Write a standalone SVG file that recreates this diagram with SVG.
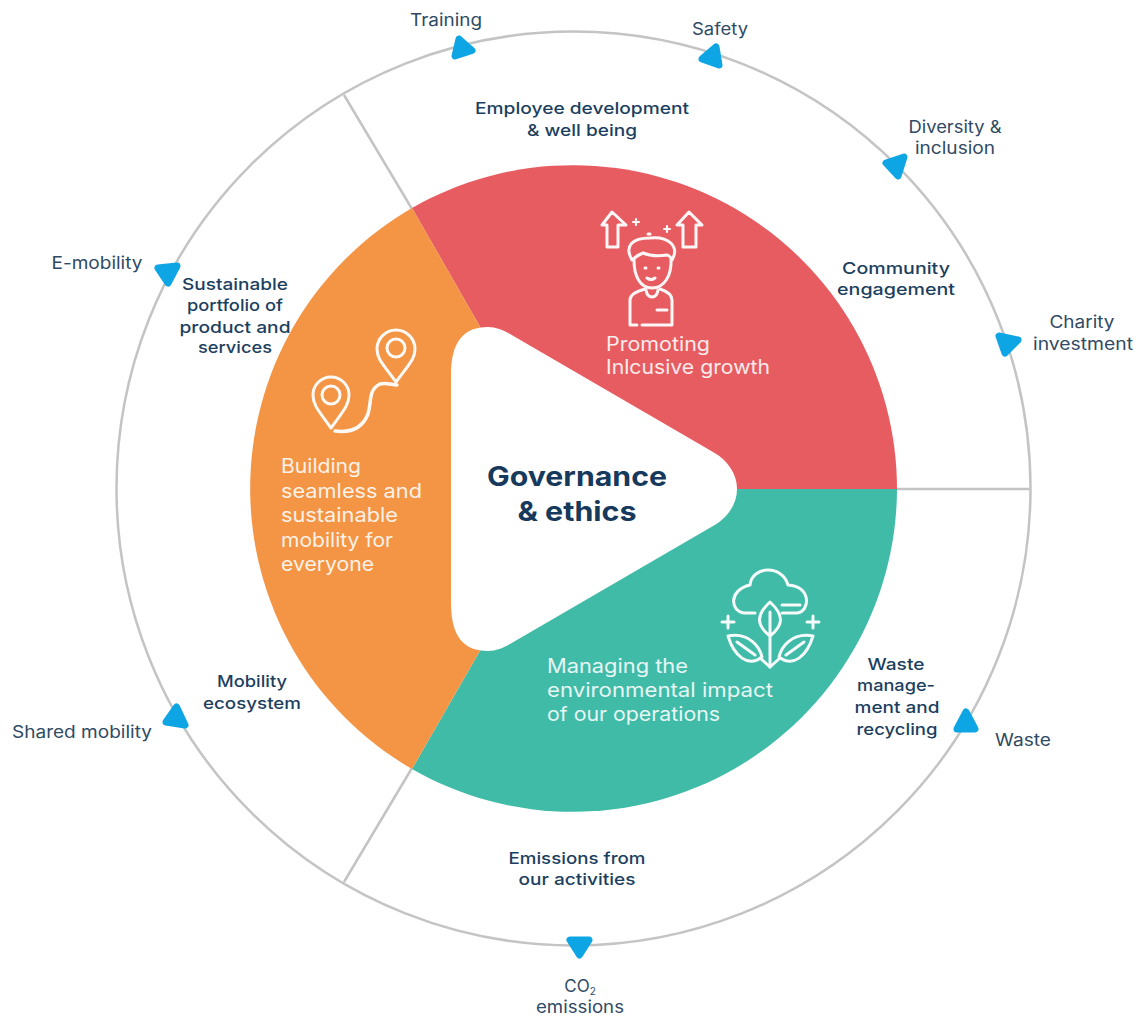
<svg xmlns="http://www.w3.org/2000/svg" width="1137" height="1016" viewBox="0 0 1137 1016">
<style>
text{font-family:"Inter","Liberation Sans",sans-serif;text-anchor:middle}
.o{font-size:17px;fill:#2f4a63}
.m{font-size:16.5px;font-weight:500;fill:#1c3f60}
.w{font-size:19.5px;fill:#fff;text-anchor:start;opacity:.88}
.t{font-size:27px;font-weight:700;fill:#16395c}
.i{fill:none;stroke:#fff;stroke-width:3;stroke-linecap:round;stroke-linejoin:round;opacity:.95}
.l{fill:none;stroke:#c4c4c4;stroke-width:2.5}
.a{fill:#0ea5e4;stroke:#0ea5e4;stroke-width:7;stroke-linejoin:round}
</style>
<rect width="1137" height="1016" fill="#fff"/>
<g id="ring"><circle class="l" cx="573.5" cy="488.5" r="457"/></g>
<g id="connectors">
<path class="l" d="M897 489H1030M412 209L344 95M412 768L344 882"/>
<path class="a" d="M459 39L472 50.5L455 56Z"/>
<path class="a" d="M716 47L719 65L702 59Z"/>
<path class="a" d="M904 157L898 176L886 163Z"/>
<path class="a" d="M999 336L1018 340L1005 353Z"/>
<path class="a" d="M158 268L177 266L168 283Z"/>
<path class="a" d="M176.500 707L185 725L166 722Z"/>
<path class="a" d="M966 712L975 729L957 729Z"/>
<path class="a" d="M570 940L589 940L579.500 955Z"/>
</g>
<g id="sector-red"><path fill="#e75c61" d="M412 208A324 324 0 0 1 897 489H573Z"/></g>
<g id="sector-green"><path fill="#3fbba8" d="M897 489A324 324 0 0 1 412 769L573 489Z"/></g>
<g id="sector-orange"><path fill="#f39545" d="M412 769A324 324 0 0 1 412 208L573 489Z"/></g>
<g id="center"><path fill="#fff" d="M451 375C451 340 465 327 488 327C496 327 503 330 510 334L713 452C745 470 745 508 713 526L510 644C503 648 496 651 488 651C465 651 451 638 451 603Z"/>
<text class="t" x="577" y="486" textLength="180" lengthAdjust="spacingAndGlyphs">Governance</text><text class="t" x="577" y="521" textLength="119" lengthAdjust="spacingAndGlyphs">&amp; ethics</text></g>
<g id="icon-person" class="i">
<path d="M612 212L602 225H607V247H618V225H626ZM689 212L677 225H683V247H696V225H702Z"/>
<path d="M632 260C624 246 632 238 650 238C668 236 680 246 672 260C670 256 668 255 667 255C660 256 650 256 643 253C638 255 635 257 632 260Z"/>
<path d="M634 260C634 276 640 288 652 288C664 288 672 276 671 258"/>
<path d="M648 234H650M645 268H646M658 268H659M647 278Q651 281 655 278"/>
<path d="M646 290Q647 297 652 297Q657 297 658 290M637 325H630V300Q630 293 645 289M660 289Q672 293 672 300V325H642M657 310H667"/>
<path d="M636 219V225M633 222H639M667 226V232M664 229H670" stroke-width="2.200"/>
</g>
<g id="icon-pins" class="i">
<path d="M331 428C318 410 313 405 313 395A18 18 0 0 1 349 395C349 405 344 410 331 428ZM396 382C383 364 377 359 377 349A19 19 0 0 1 415 349C415 359 409 364 396 382Z"/>
<circle cx="331" cy="395" r="9"/><circle cx="396" cy="348" r="9"/>
<path stroke-width="3.500" d="M335 431C350 433 362 429 368 414C372 400 368 390 380 384C386 382 392 385 397 385"/>
</g>
<g id="icon-plant" class="i">
<path d="M755 613H745C730 612 728 590 750 585C752 566 782 564 788 585C812 586 810 612 797 613H782M782 605H800"/>
<path d="M770 602C756 615 756 625 770 636C784 625 784 615 770 602ZM770 612V667"/>
<path d="M728 636C750 632 760 648 762 657C748 668 734 656 728 636ZM813 636C791 632 781 648 779 657C793 668 807 656 813 636ZM737 642L755 655M804 642L786 655"/>
<path d="M770 667L760 658M770 667L780 658M722 622H734M728 616V628M807 622H819M813 616V628"/>
</g>
<g id="label-red"><text class="w" x="606" y="351" textLength="104" lengthAdjust="spacingAndGlyphs">Promoting</text><text class="w" x="606" y="374" textLength="164" lengthAdjust="spacingAndGlyphs">Inlcusive growth</text></g>
<g id="label-orange"><text class="w" x="281" y="473" textLength="80" lengthAdjust="spacingAndGlyphs">Building</text><text class="w" x="281" y="498" textLength="141" lengthAdjust="spacingAndGlyphs">seamless and</text><text class="w" x="281" y="522" textLength="117" lengthAdjust="spacingAndGlyphs">sustainable</text><text class="w" x="281" y="547" textLength="112" lengthAdjust="spacingAndGlyphs">mobility for</text><text class="w" x="281" y="571" textLength="93" lengthAdjust="spacingAndGlyphs">everyone</text></g>
<g id="label-green"><text class="w" x="547" y="673" textLength="141" lengthAdjust="spacingAndGlyphs">Managing the</text><text class="w" x="547" y="697" textLength="226" lengthAdjust="spacingAndGlyphs">environmental impact</text><text class="w" x="547" y="721" textLength="173" lengthAdjust="spacingAndGlyphs">of our operations</text></g>
<g id="mid-labels">
<text class="m" x="582" y="114" textLength="214" lengthAdjust="spacingAndGlyphs">Employee development</text><text class="m" x="582" y="136" textLength="110" lengthAdjust="spacingAndGlyphs">&amp; well being</text>
<text class="m" x="896" y="274" textLength="108" lengthAdjust="spacingAndGlyphs">Community</text><text class="m" x="896" y="295" textLength="118" lengthAdjust="spacingAndGlyphs">engagement</text>
<text class="m" x="235" y="290" textLength="106" lengthAdjust="spacingAndGlyphs">Sustainable</text><text class="m" x="235" y="311" textLength="96" lengthAdjust="spacingAndGlyphs">portfolio of</text><text class="m" x="235" y="333" textLength="111" lengthAdjust="spacingAndGlyphs">product and</text><text class="m" x="235" y="353" textLength="74" lengthAdjust="spacingAndGlyphs">services</text>
<text class="m" x="252" y="687" textLength="70" lengthAdjust="spacingAndGlyphs">Mobility</text><text class="m" x="252" y="709" textLength="98" lengthAdjust="spacingAndGlyphs">ecosystem</text>
<text class="m" x="896" y="670" textLength="57" lengthAdjust="spacingAndGlyphs">Waste</text><text class="m" x="896" y="691" textLength="78" lengthAdjust="spacingAndGlyphs">manage-</text><text class="m" x="897" y="713" textLength="85" lengthAdjust="spacingAndGlyphs">ment and</text><text class="m" x="897" y="735" textLength="81" lengthAdjust="spacingAndGlyphs">recycling</text>
<text class="m" x="577" y="864" textLength="137" lengthAdjust="spacingAndGlyphs">Emissions from</text><text class="m" x="577" y="885" textLength="117" lengthAdjust="spacingAndGlyphs">our activities</text>
</g>
<g id="outer-labels">
<text class="o" x="446" y="26" textLength="72" lengthAdjust="spacingAndGlyphs">Training</text><text class="o" x="720" y="35" textLength="56" lengthAdjust="spacingAndGlyphs">Safety</text>
<text class="o" x="955" y="133" textLength="93" lengthAdjust="spacingAndGlyphs">Diversity &amp;</text><text class="o" x="955" y="154" textLength="80" lengthAdjust="spacingAndGlyphs">inclusion</text>
<text class="o" x="1082" y="328" textLength="65" lengthAdjust="spacingAndGlyphs">Charity</text><text class="o" x="1083" y="350" textLength="100" lengthAdjust="spacingAndGlyphs">investment</text>
<text class="o" x="97" y="269" textLength="91" lengthAdjust="spacingAndGlyphs">E-mobility</text><text class="o" x="82" y="738" textLength="140" lengthAdjust="spacingAndGlyphs">Shared mobility</text>
<text class="o" x="1023" y="746" textLength="56" lengthAdjust="spacingAndGlyphs">Waste</text>
<text class="o" x="580" y="992">CO<tspan font-size="10" dy="3">2</tspan></text><text class="o" x="580" y="1013" textLength="88" lengthAdjust="spacingAndGlyphs">emissions</text>
</g>
</svg>
